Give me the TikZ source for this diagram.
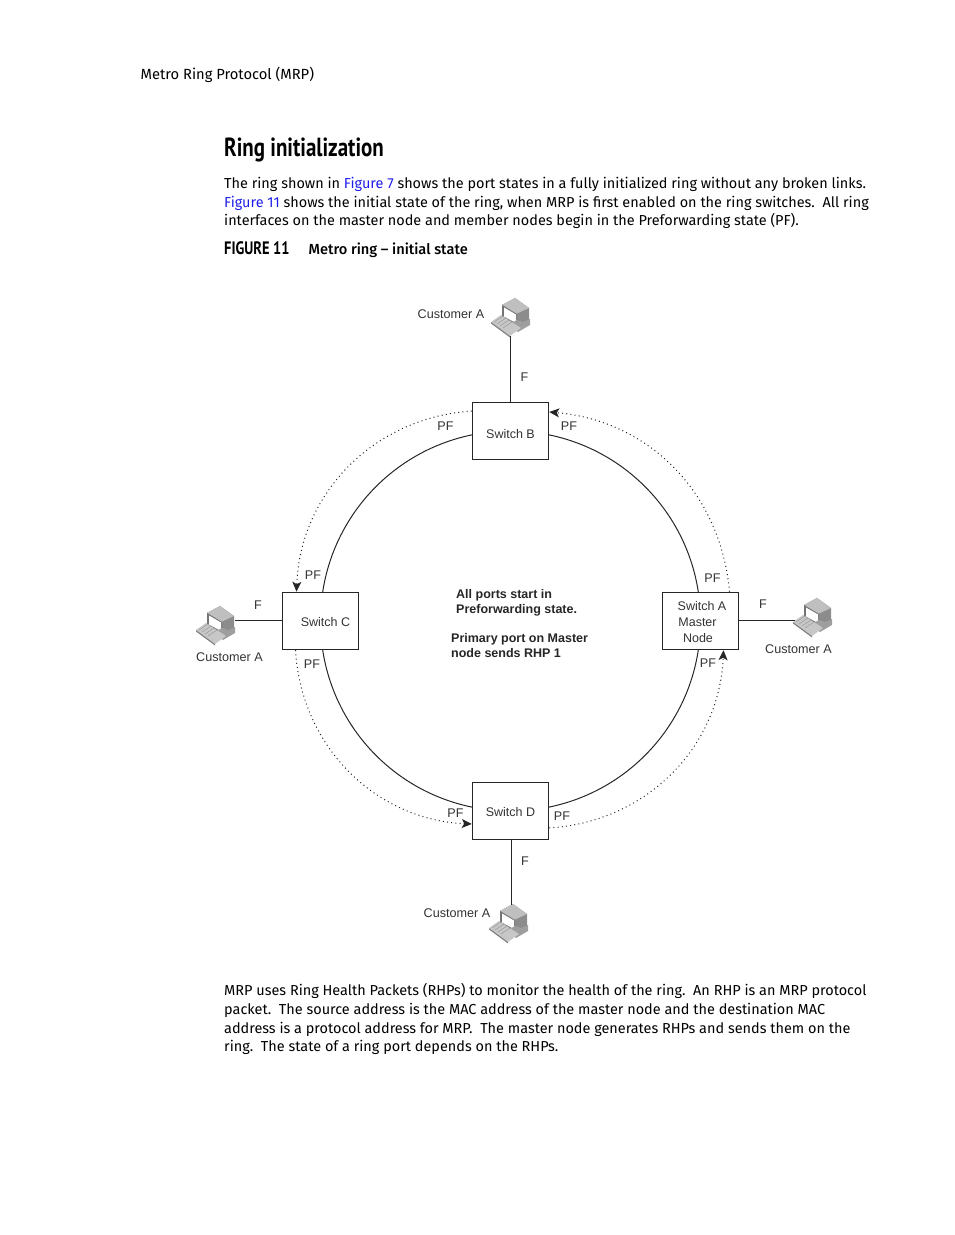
\documentclass[tikz,border=0pt]{standalone}
\usepackage{fontspec}
\setmainfont{Fira Sans}[BoldFont={Fira Sans Medium}]
\newfontfamily\diagramfont{Liberation Sans}
\newfontfamily\headfont[FakeStretch=0.8]{PT Sans}
\usepackage{xcolor}
\usetikzlibrary{arrows.meta,positioning,backgrounds}
\definecolor{linkblue}{RGB}{30,30,235}

\begin{document}
\begin{tikzpicture}[
  x=1pt, y=1pt,
  switchbox/.style={draw=black!85, fill=white, line width=1pt, inner sep=0pt,
    minimum width=76.5pt, minimum height=57.5pt, align=center, text=black!80,
    font=\diagramfont\fontsize{12.5}{16}\selectfont},
  portlabel/.style={text=black!80, inner sep=0pt, font=\diagramfont\fontsize{12.6}{15}\selectfont},
  note/.style={anchor=north west, align=left, inner sep=0pt, text=black!85,
    font=\diagramfont\bfseries\fontsize{12.5}{15}\selectfont},
  para/.style={anchor=base west, align=left, inner sep=0pt,
    font=\fontsize{14.45}{18.7}\selectfont},
  ringline/.style={line width=1pt, draw=black!85},
  rhpline/.style={line width=1pt, draw=black!85, dash pattern=on 1pt off 3.2pt},
  rhptip/.style={-{Stealth[length=10pt,width=9pt,inset=2.5pt]}},
  computer/.pic={
    \fill[black!45] (-9,12) -- (4,19) -- (18,9) -- (18,-6) -- (5,-12) -- (-9,-2) -- cycle;
    \fill[black!25] (-9,12) -- (4,19) -- (18,9) -- (5,3) -- cycle;
    \fill[black!55] (-9,12) -- (6,3) -- (6,-10) -- (-9,-1) -- cycle;
    \fill[white] (-7,9.5) -- (5,2.5) -- (5,-6) -- (-7,0.5) -- cycle;
    \fill[black!38] (19,-2) -- (19,-8) -- (7,-15) -- (-3,-8) -- (6,-3) -- (12,-5) -- cycle;
    \fill[black!22] (-20,-5) -- (-10,2) -- (10,-11) -- (-1,-19) -- cycle;
    \draw[black!45, line width=0.4pt] (-17,-5) -- (-8,1) (-14,-7) -- (-5,-1) (-11,-9) -- (-2,-3) (-8,-11) -- (1,-5);
    \fill[black!50] (-20,-5) -- (-1,-19) -- (-1,-20.5) -- (-20,-6.5) -- cycle;
    \coordinate (-top) at (2.5,18);
    \coordinate (-bottom) at (-0.5,-19.5);
    \coordinate (-right) at (19,4);
    \coordinate (-left) at (-18,-4);
  }
]
\useasboundingbox (0,0) rectangle (954,1235);

% page text
\node[para, font=\fontsize{14.7}{17}\selectfont] (running) at (140.5,1155) {Metro Ring Protocol (MRP)};
\node[para, font=\headfont\bfseries\fontsize{26.2}{28}\selectfont] (title) at (224,1078) {Ring initialization};
\node[para] (intro) at (224,1009) {The ring shown in \textcolor{linkblue}{Figure 7} shows the port states in a fully initialized ring without any broken links.\\
\textcolor{linkblue}{Figure 11} shows the initial state of the ring, when MRP is first enabled on the ring switches.\ \ All ring\\
interfaces on the master node and member nodes begin in the Preforwarding state (PF).};
\node[para, font=\headfont\bfseries\fontsize{18}{20}\selectfont] (figno) at (224,980) {FIGURE 11};
\node[para, font=\bfseries\fontsize{14.6}{17}\selectfont] (figcap) at (308.5,980) {Metro ring -- initial state};
\node[para] (outro) at (224,183) {MRP uses Ring Health Packets (RHPs) to monitor the health of the ring.\ \ An RHP is an MRP protocol\\
packet.\ \ The source address is the MAC address of the master node and the destination MAC\\
address is a protocol address for MRP.\ \ The master node generates RHPs and sends them on the\\
ring.\ \ The state of a ring port depends on the RHPs.};

% switches
\node[switchbox] (B) at (510.5,804) {\rule{0pt}{15pt}Switch B};
\node[switchbox] (A) at (700.5,614) {\rule{0pt}{12pt}\hspace*{3pt}Switch A\\\hspace*{-6pt}Master\\\hspace*{-5pt}Node};
\node[switchbox] (C) at (320.5,614) {\rule{0pt}{11pt}\hspace*{10pt}Switch C};
\node[switchbox] (D) at (510.5,424) {\rule{0pt}{11pt}Switch D};

% ring
\begin{scope}[on background layer]
\draw[ringline] (B.center) to[bend left=45] (A.center);
\draw[ringline] (A.center) to[bend left=45] (D.center);
\draw[ringline] (D.center) to[bend left=45] (C.center);
\draw[ringline] (C.center) to[bend left=45] (B.center);
\end{scope}

% customers
\pic (pcb) at (511,918) {computer};
\pic (pca) at (813,618) {computer};
\pic (pcc) at (216,610) {computer};
\pic (pcd) at (509,312) {computer};

\draw[ringline] (B.north) -- (pcb-bottom);
\draw[ringline] (A.east) -- (pca-left);
\draw[ringline] (C.west) -- (pcc-right);
\draw[ringline] ([xshift=1pt]D.south) -- (pcd-top);

% RHP paths
\draw[rhpline, rhptip] ([xshift=29pt]A.north) to[bend right=40] ([yshift=19pt]B.east);
\draw[rhpline, rhptip] ([yshift=20pt]B.west) to[bend right=42] ([xshift=-24pt]C.north);
\draw[rhpline, rhptip] ([xshift=-25pt]C.south) to[bend right=42] ([yshift=-13pt]D.west);
\draw[rhpline, rhptip] ([yshift=-17pt]D.east) to[bend right=42] ([xshift=23pt]A.south);

% labels
\node[portlabel] (custb) at (451,920.5) {Customer A};
\node[portlabel] (custa) at (798.5,585.5) {Customer A};
\node[portlabel] (custc) at (229.5,578) {Customer A};
\node[portlabel] (custd) at (457,322) {Customer A};

\node[portlabel] (fb) at (524.5,858) {F};
\node[portlabel] (fa) at (763,631) {F};
\node[portlabel] (fc) at (258,630) {F};
\node[portlabel] (fd) at (525,374) {F};

\node[portlabel] (pfb1) at (445.5,809) {PF};
\node[portlabel] (pfb2) at (569,809) {PF};
\node[portlabel] (pfa1) at (712.5,657) {PF};
\node[portlabel] (pfa2) at (708,572) {PF};
\node[portlabel] (pfc1) at (313,660) {PF};
\node[portlabel] (pfc2) at (312,571) {PF};
\node[portlabel] (pfd1) at (455.5,422) {PF};
\node[portlabel] (pfd2) at (562,419) {PF};

\node[note] (note1) at (456,646) {All ports start in\\Preforwarding state.};
\node[note] (note2) at (451,602) {Primary port on Master\\node sends RHP 1};
\end{tikzpicture}
\end{document}
